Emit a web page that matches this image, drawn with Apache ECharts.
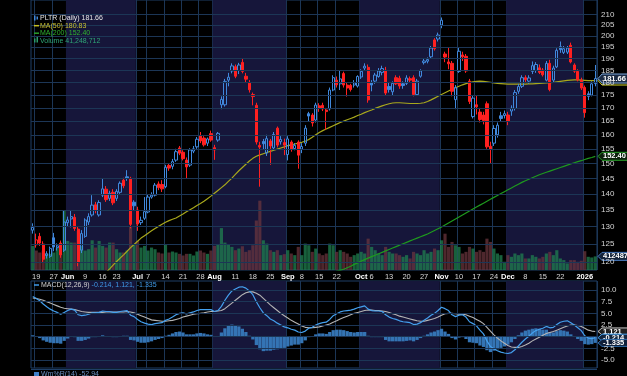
<!DOCTYPE html>
<html><head><meta charset="utf-8">
<script src="https://cdn.jsdelivr.net/npm/echarts@6/dist/echarts.min.js"></script>
<style>html,body{margin:0;padding:0;background:#000;}#c{width:627px;height:376px;}</style>
</head><body><div id="c"></div>
<script>
const dates = [
'2025-05-16','2025-05-19','2025-05-20','2025-05-21','2025-05-22','2025-05-23','2025-05-27','2025-05-28','2025-05-29','2025-05-30',
'2025-06-02','2025-06-03','2025-06-04','2025-06-05','2025-06-06','2025-06-09','2025-06-10','2025-06-11','2025-06-12','2025-06-13','2025-06-16','2025-06-17','2025-06-18','2025-06-20','2025-06-23','2025-06-24','2025-06-25','2025-06-26','2025-06-27','2025-06-30',
'2025-07-01','2025-07-02','2025-07-03','2025-07-07','2025-07-08','2025-07-09','2025-07-10','2025-07-11','2025-07-14','2025-07-15','2025-07-16','2025-07-17','2025-07-18','2025-07-21','2025-07-22','2025-07-23','2025-07-24','2025-07-25','2025-07-28','2025-07-29','2025-07-30','2025-07-31',
'2025-08-01','2025-08-04','2025-08-05','2025-08-06','2025-08-07','2025-08-08','2025-08-11','2025-08-12','2025-08-13','2025-08-14','2025-08-15','2025-08-18','2025-08-19','2025-08-20','2025-08-21','2025-08-22','2025-08-25','2025-08-26','2025-08-27','2025-08-28','2025-08-29',
'2025-09-02','2025-09-03','2025-09-04','2025-09-05','2025-09-08','2025-09-09','2025-09-10','2025-09-11','2025-09-12','2025-09-15','2025-09-16','2025-09-17','2025-09-18','2025-09-19','2025-09-22','2025-09-23','2025-09-24','2025-09-25','2025-09-26','2025-09-29','2025-09-30',
'2025-10-01','2025-10-02','2025-10-03','2025-10-06','2025-10-07','2025-10-08','2025-10-09','2025-10-10','2025-10-13','2025-10-14','2025-10-15','2025-10-16','2025-10-17','2025-10-20','2025-10-21','2025-10-22','2025-10-23','2025-10-24','2025-10-27','2025-10-28','2025-10-29','2025-10-30','2025-10-31',
'2025-11-03','2025-11-04','2025-11-05','2025-11-06','2025-11-07','2025-11-10','2025-11-11','2025-11-12','2025-11-13','2025-11-14','2025-11-17','2025-11-18','2025-11-19','2025-11-20','2025-11-21','2025-11-24','2025-11-25','2025-11-26','2025-11-28',
'2025-12-01','2025-12-02','2025-12-03','2025-12-04','2025-12-05','2025-12-08','2025-12-09','2025-12-10','2025-12-11','2025-12-12','2025-12-15','2025-12-16','2025-12-17','2025-12-18','2025-12-19','2025-12-22','2025-12-23','2025-12-24','2025-12-26','2025-12-29','2025-12-30','2025-12-31',
'2026-01-02','2026-01-05','2026-01-06','2026-01-07'];

const opens = [129.0,124.8,127.2,125.0,121.8,121.6,126.8,124.0,125.3,123.3,131.2,132.3,132.8,129.3,123.3,127.2,131.4,133.5,136.6,133.5,139.6,141.5,138.6,140.5,138.6,140.5,144.4,145.5,145.0,137.4,135.0,131.2,132.5,134.4,139.0,139.6,143.2,143.0,142.3,149.3,149.0,151.1,155.3,153.8,151.1,149.4,154.2,155.7,159.6,158.8,157.0,160.4,155.4,158.1,171.2,171.2,181.0,184.8,186.6,185.0,188.4,182.6,179.8,175.2,171.0,156.2,157.6,153.5,157.8,155.3,162.4,157.5,157.2,153.0,157.4,155.1,157.4,154.9,157.0,167.8,167.3,165.4,170.8,171.0,169.2,169.6,177.0,181.0,179.5,183.7,179.0,178.9,179.0,178.6,182.3,186.0,186.3,180.0,180.6,182.5,184.2,185.1,178.4,176.3,182.0,181.8,179.5,179.7,181.6,182.0,175.2,182.6,188.3,188.9,190.8,198.2,198.6,205.0,192.0,188.6,188.0,173.2,184.6,191.6,191.0,180.6,166.7,171.2,168.4,167.3,171.6,155.9,157.0,160.0,167.0,167.1,167.3,168.8,169.8,176.5,178.5,182.0,180.6,184.6,185.0,186.1,185.2,181.0,188.0,181.0,186.5,195.2,192.7,192.8,195.8,187.3,184.6,181.0,178.0,175.5,175.0,179.6];
const closes = [129.8,126.2,125.3,120.8,122.3,123.8,124.2,124.5,122.0,131.4,132.0,133.0,129.5,119.9,128.0,132.0,133.0,136.5,135.0,137.3,141.6,138.2,140.2,137.2,140.8,143.4,142.6,145.0,130.7,136.3,130.8,131.9,134.5,139.0,139.6,142.8,142.0,141.6,148.7,148.4,150.6,154.0,153.5,151.6,148.8,154.6,155.0,158.4,157.8,156.4,158.5,158.1,154.6,160.5,173.3,180.5,182.2,186.9,182.6,187.3,184.6,181.4,177.1,174.4,157.4,155.6,156.8,158.6,156.0,160.1,156.3,158.3,156.3,158.5,154.8,156.2,152.8,155.8,162.4,166.9,164.3,171.1,169.8,169.6,168.6,177.0,182.0,179.1,181.5,179.0,177.8,177.2,179.9,182.5,184.6,186.8,173.1,179.0,183.1,184.8,185.8,175.8,177.2,179.7,179.5,178.6,178.8,181.9,181.0,175.2,180.6,184.8,189.0,189.6,194.6,194.3,200.4,207.2,190.7,187.8,176.5,178.0,193.2,190.8,184.8,172.5,173.8,170.4,165.6,165.2,155.7,154.8,162.3,163.5,166.0,167.8,164.9,169.9,176.0,178.4,182.0,181.2,181.9,187.0,187.5,184.2,183.2,188.0,177.2,186.0,193.6,193.9,194.3,194.6,188.6,184.7,181.1,177.8,168.2,174.5,179.5,181.66];
const lows = [128.0,124.0,124.5,119.8,121.0,121.2,123.0,123.2,121.2,122.8,130.0,129.8,128.8,118.9,122.5,126.8,130.5,133.0,134.0,133.0,139.0,137.5,137.8,136.5,137.8,140.0,141.8,144.2,129.5,135.0,128.8,130.5,132.0,134.0,138.5,139.2,141.2,140.6,141.8,147.5,148.0,150.5,152.8,151.0,145.0,148.8,153.5,155.0,157.0,155.8,156.0,157.5,151.2,157.5,169.5,170.5,178.5,183.8,181.8,183.5,183.8,180.0,176.0,171.0,156.5,142.3,154.6,152.5,149.5,154.5,155.5,156.5,152.8,151.0,154.0,154.5,148.2,153.5,156.0,165.0,163.0,164.5,168.5,168.8,161.8,169.0,176.5,178.0,177.0,178.0,174.4,176.4,178.0,178.0,181.5,185.0,172.0,176.5,179.5,182.0,183.0,175.0,176.0,175.0,179.0,177.5,177.5,179.0,180.0,174.5,174.8,182.0,187.5,188.0,190.0,193.5,197.5,203.5,188.5,185.5,174.5,169.5,184.0,189.0,184.0,171.5,166.0,167.5,164.5,163.8,155.0,150.0,156.0,159.0,165.0,166.0,163.5,167.0,169.0,175.5,177.8,180.0,179.5,183.5,184.0,183.5,182.5,180.5,176.5,180.0,186.0,192.5,192.0,192.0,188.0,184.0,180.5,177.0,166.3,173.0,174.5,178.5];
const highs = [131.0,128.0,128.2,125.8,123.0,124.3,128.2,125.2,126.0,134.8,133.0,135.0,133.8,130.0,129.0,132.5,134.0,139.6,137.5,138.0,145.0,142.5,141.0,141.5,141.5,144.0,145.2,147.7,145.5,138.0,136.0,133.0,139.0,139.8,140.5,143.5,144.0,144.4,149.5,150.0,151.5,155.0,156.0,154.5,152.0,155.2,156.0,159.2,161.0,159.5,159.0,161.5,156.4,161.0,174.5,181.5,184.0,188.0,187.5,188.2,190.0,184.0,181.0,176.0,172.0,157.5,158.5,160.0,158.5,161.0,163.0,159.5,158.6,159.5,158.0,157.0,158.0,157.0,163.5,168.5,168.0,172.0,171.8,172.0,170.0,178.0,183.0,182.5,185.0,184.5,180.0,179.5,181.0,183.0,185.5,188.0,187.5,181.0,184.0,186.0,187.0,186.5,180.0,180.5,183.0,182.8,180.5,183.0,182.5,183.0,181.5,185.5,190.0,190.5,195.5,199.0,201.5,208.5,193.0,195.0,189.0,179.0,195.0,193.0,192.0,181.5,175.0,175.0,170.0,168.5,172.5,157.5,163.5,164.5,168.5,169.0,168.5,171.0,177.0,179.5,183.0,183.0,183.0,188.8,188.5,187.5,186.0,189.0,189.5,187.0,194.5,197.5,195.5,195.5,197.0,188.0,185.5,182.0,178.8,176.5,180.5,187.3];
const volumesM = [73,59,53,59,50,49,53,68,49,179,88,83,83,118,73,59,63,90,68,88,73,68,83,83,63,53,53,59,132,78,88,68,73,59,68,63,53,50,78,53,56,53,49,44,49,49,44,56,59,53,49,59,73,78,127,83,78,70,60,65,72,55,60,75,150,210,90,80,60,55,60,45,48,60,50,45,70,45,80,75,55,65,50,45,50,80,75,55,60,55,50,40,45,50,55,50,95,70,60,50,45,70,55,50,50,45,40,45,35,55,50,45,60,50,55,65,60,90,110,70,85,75,70,50,55,70,65,55,60,55,95,85,65,50,45,25,45,40,50,45,50,35,35,45,40,35,40,50,55,45,60,35,30,20,30,30,25,28,57,40,38,41.25];
const ma50 = [null,null,null,null,null,null,null,null,null,null,null,null,null,null,null,null,null,null,null,null,null,117.3,118.2,119.2,120.2,121.1,122.0,123.0,124.0,124.9,125.8,126.7,127.4,128.1,128.8,129.5,130.1,130.7,131.3,131.8,132.2,132.6,133.2,133.8,134.5,135.1,135.7,136.4,137.0,137.7,138.5,139.3,140.2,141.1,142.0,142.9,144.0,145.1,146.3,147.5,148.6,149.7,150.8,151.7,152.4,152.9,153.3,153.7,154.1,154.5,154.9,155.3,155.7,156.1,156.4,156.7,157.0,157.3,157.7,158.3,159.1,160.0,160.8,161.5,162.1,162.7,163.3,163.9,164.5,165.0,165.5,166.0,166.5,167.1,167.6,168.2,168.7,169.2,169.8,170.3,170.8,171.2,171.6,171.9,172.0,172.0,171.9,171.8,171.7,171.7,171.7,171.8,172.0,172.5,173.1,173.8,174.5,175.2,175.9,176.6,177.3,177.9,178.5,179.1,179.6,180.0,180.3,180.5,180.6,180.5,180.3,180.1,179.9,179.7,179.6,179.5,179.4,179.4,179.4,179.4,179.4,179.4,179.5,179.5,179.6,179.7,179.8,179.9,180.0,180.1,180.3,180.5,180.7,180.9,181.0,181.1,181.1,181.0,180.9,180.8,180.8,180.83];
const ma200 = [null,null,null,null,null,null,null,null,null,null,null,null,null,null,null,null,null,null,null,null,null,null,null,null,null,null,null,null,null,null,null,null,null,null,null,null,null,null,null,null,null,null,null,null,null,null,null,null,null,null,null,null,null,null,null,null,null,null,null,null,null,null,null,null,null,null,null,null,null,null,null,null,null,null,null,null,null,null,null,null,null,null,null,null,null,null,117.2,117.6,117.8,118.1,118.5,118.9,119.4,119.8,120.3,120.7,121.1,121.5,121.9,122.3,122.7,123.1,123.5,123.9,124.3,124.7,125.1,125.5,125.9,126.3,126.7,127.1,127.5,127.9,128.4,128.9,129.4,129.9,130.5,131.1,131.7,132.3,132.9,133.5,134.1,134.7,135.3,135.9,136.5,137.1,137.7,138.3,138.9,139.5,140.1,140.7,141.3,141.9,142.5,143.1,143.7,144.2,144.7,145.2,145.7,146.2,146.6,147.0,147.4,147.8,148.2,148.6,149.0,149.4,149.8,150.2,150.6,150.9,151.3,151.7,152.0,152.4];
const macd = [8.6,8.2,7.7,7.0,6.4,5.9,5.5,5.2,4.8,5.2,5.6,5.9,5.7,4.7,4.5,4.6,4.8,5.1,5.1,5.2,5.5,5.4,5.4,5.2,5.2,5.4,5.5,5.6,4.6,4.3,3.7,3.2,2.9,2.7,2.6,2.8,2.9,3.0,3.5,3.8,4.2,4.7,5.0,5.1,4.9,5.1,5.3,5.6,5.8,5.8,5.8,5.8,5.4,5.6,6.5,7.8,8.9,9.8,10.2,10.6,10.7,10.4,9.8,9.0,7.5,6.2,5.1,4.5,3.8,3.4,2.9,2.5,2.1,1.9,1.6,1.4,1.0,0.9,1.2,1.8,2.0,2.5,2.8,3.0,3.1,3.7,4.5,4.9,5.3,5.5,5.6,5.7,5.9,6.2,6.4,6.6,5.9,5.6,5.5,5.5,5.4,4.7,4.2,3.9,3.7,3.4,3.2,3.1,3.0,2.6,2.7,3.0,3.5,4.0,4.6,5.0,5.6,6.3,6.0,5.6,4.7,4.3,4.6,4.7,4.2,3.2,2.8,2.3,1.4,0.6,-0.9,-2.1,-2.6,-3.0,-3.3,-3.5,-3.6,-3.4,-2.8,-2.0,-1.2,-0.5,0.1,0.8,1.3,1.6,1.8,2.2,1.9,2.0,2.6,3.1,3.3,3.4,3.0,2.5,1.9,1.3,0.2,-0.3,-0.4,-0.214];
const signal = [8.3,8.2,8.0,7.8,7.5,7.2,6.9,6.6,6.3,6.1,6.0,5.9,5.8,5.6,5.4,5.3,5.2,5.2,5.2,5.2,5.2,5.3,5.3,5.3,5.3,5.3,5.3,5.4,5.3,5.1,4.8,4.5,4.2,3.9,3.6,3.5,3.4,3.3,3.3,3.4,3.5,3.7,3.9,4.2,4.4,4.6,4.8,4.9,5.0,5.1,5.3,5.4,5.4,5.5,5.6,6.0,6.6,7.2,7.8,8.4,9.0,9.4,9.6,9.6,9.3,8.9,8.2,7.5,6.8,6.2,5.6,5.0,4.5,4.0,3.5,3.1,2.7,2.3,2.0,1.9,1.9,2.0,2.1,2.3,2.5,2.7,3.1,3.4,3.8,4.1,4.4,4.7,5.0,5.2,5.4,5.6,5.7,5.7,5.6,5.6,5.5,5.4,5.2,4.9,4.7,4.4,4.2,4.0,3.8,3.6,3.4,3.3,3.3,3.5,3.7,3.9,4.2,4.6,4.9,5.0,5.0,4.9,4.8,4.8,4.7,4.4,4.1,3.7,3.3,2.8,2.0,1.2,0.4,-0.3,-0.9,-1.4,-1.9,-2.2,-2.3,-2.3,-2.1,-1.8,-1.4,-0.9,-0.5,-0.1,0.3,0.7,0.9,1.1,1.4,1.7,2.0,2.3,2.5,2.5,2.4,2.2,1.8,1.4,1.2,1.121];
const hist = [0.3,0.0,-0.3,-0.8,-1.1,-1.3,-1.4,-1.4,-1.5,-0.9,-0.4,0.0,-0.1,-0.9,-0.9,-0.7,-0.4,-0.1,-0.1,0.0,0.3,0.1,0.1,-0.1,-0.1,0.1,0.2,0.2,-0.7,-0.8,-1.1,-1.3,-1.3,-1.2,-1.0,-0.7,-0.5,-0.3,0.2,0.4,0.7,1.0,1.1,0.9,0.5,0.5,0.5,0.7,0.8,0.7,0.5,0.4,0.0,0.1,0.9,1.8,2.3,2.6,2.4,2.2,1.7,1.0,0.2,-0.6,-1.8,-2.7,-3.1,-3.0,-3.0,-2.8,-2.7,-2.5,-2.4,-2.1,-1.9,-1.7,-1.7,-1.4,-0.8,-0.1,0.1,0.5,0.7,0.7,0.6,1.0,1.4,1.5,1.5,1.4,1.2,1.0,0.9,1.0,1.0,1.0,0.2,-0.1,-0.1,-0.1,-0.1,-0.7,-1.0,-1.0,-1.0,-1.0,-1.0,-0.9,-0.8,-1.0,-0.7,-0.3,0.2,0.5,0.9,1.1,1.4,1.7,1.1,0.6,-0.3,-0.6,-0.2,-0.1,-0.5,-1.2,-1.3,-1.4,-1.9,-2.2,-2.9,-3.3,-3.0,-2.7,-2.4,-2.1,-1.7,-1.2,-0.5,0.3,0.9,1.3,1.5,1.7,1.8,1.7,1.5,1.5,1.0,0.9,1.2,1.4,1.3,1.1,0.5,0.0,-0.5,-0.9,-1.6,-1.7,-1.6,-1.335];

const tickDates = ['2025-05-19','2025-05-27','2025-06-02','2025-06-09','2025-06-16','2025-06-23','2025-07-01','2025-07-07','2025-07-14','2025-07-21','2025-07-28','2025-08-01','2025-08-11','2025-08-18','2025-08-25','2025-09-02','2025-09-08','2025-09-15','2025-09-22','2025-10-01','2025-10-06','2025-10-13','2025-10-20','2025-10-27','2025-11-03','2025-11-10','2025-11-17','2025-11-24','2025-12-01','2025-12-08','2025-12-15','2025-12-22','2026-01-02'];
const tickTexts = ['19','27','Jun','9','16','23','Jul','7','14','21','28','Aug','11','18','25','Sep','8','15','22','Oct','6','13','20','27','Nov','10','17','24','Dec','8','15','22','2026'];
const shadedMonths = [['2025-06-02','2025-07-01'],['2025-08-01','2025-09-02'],['2025-10-01','2025-11-03'],['2025-12-01','2026-01-02']];
const priceTicks = [120,125,130,135,140,145,150,155,160,165,170,175,180,185,190,195,200,205,210];
const volTicks = [50e6,100e6,150e6,200e6,250e6];
const macdTicks = [-5,-2.5,0,2.5,5,7.5,10];

const BLUE='#4088dc', RED='#ff2020', GRIDC='#1c3656', FONT='"Liberation Sans", Arial, sans-serif';
const N = dates.length;
const tickMap = {}; tickDates.forEach((d,i)=>tickMap[d]=tickTexts[i]);
const isMonth = t => isNaN(+t) || t.length===4;

const candleData = opens.map((o,i)=>{
  const c = closes[i], prev = i>0 ? closes[i-1] : o;
  const col = c >= prev ? BLUE : RED;
  const fill = c > o ? 'rgba(0,0,0,0)' : col;
  return {value:[o,c,lows[i],highs[i]], itemStyle:{color:fill,color0:fill,borderColor:col,borderColor0:col}};
});
const volData = volumesM.map((v,i)=>{
  const up = i===0 || closes[i] >= closes[i-1];
  return {value:v*1e6, itemStyle:{color: up ? 'rgba(32,128,80,0.75)' : 'rgba(108,54,62,0.72)'}};
});
const shadeAreas = shadedMonths.map(m=>[{xAxis:dates.indexOf(m[0])},{xAxis:dates.indexOf(m[1])}]);

const chart = echarts.init(document.getElementById('c'), null, {renderer:'canvas'});
const showTick = (idx, val) => tickMap[val] !== undefined;
const catAxis = (grid, labels) => ({
  type:'category', gridIndex:grid, data:dates, boundaryGap:true,
  axisLine:{show:false}, axisTick:{show:false},
  axisLabel: labels ? {show:true, interval:showTick, margin:3,
    formatter: v => isMonth(tickMap[v]) ? '{b|'+tickMap[v]+'}' : '{n|'+tickMap[v]+'}',
    rich:{b:{color:'#ffffff',fontWeight:'bold',fontSize:7.5,fontFamily:FONT},n:{color:'#d8d8d8',fontSize:7.5,fontFamily:FONT}}} : {show:false},
  splitLine:{show:true, interval:showTick, lineStyle:{color:GRIDC,width:1}}
});
const hLines = (vals, fmt, pos, col) => ({
  silent:true, symbol:['none','none'], animation:false,
  lineStyle:{color:GRIDC, width:1, type:'solid'},
  label:{show:true, position:pos, distance:pos==='end'?4:3, color:col||'#d4d4d4', fontSize:8, fontFamily:FONT, formatter:p=>fmt(p.value)},
  emphasis:{disabled:true},
  data: vals.map(v=>({yAxis:v}))
});

chart.setOption({
  animation:false,
  backgroundColor:'#000',
  grid:[
    {left:31, right:30, top:0, height:270, show:true, borderColor:'#1f3f66', borderWidth:1},
    {left:31, right:30, top:281, height:87, show:true, borderColor:'#1f3f66', borderWidth:1}
  ],
  xAxis:[
    catAxis(0,true),
    {type:'value', gridIndex:0, min:0, max:N, show:false},
    catAxis(1,false),
    {type:'value', gridIndex:1, min:0, max:N, show:false}
  ],
  yAxis:[
    {type:'log', gridIndex:0, min:117.9, max:216.9, position:'right', axisLabel:{show:false}, axisLine:{show:false}, axisTick:{show:false}, splitLine:{show:false}},
    {type:'value', gridIndex:0, min:0, max:818e6, position:'left', axisLabel:{show:false}, axisLine:{show:false}, axisTick:{show:false}, splitLine:{show:false}},
    {type:'value', gridIndex:1, min:-6.71, max:11.93, position:'right', axisLabel:{show:false}, axisLine:{show:false}, axisTick:{show:false}, splitLine:{show:false}}
  ],
  series:[
    {type:'line', xAxisIndex:1, yAxisIndex:0, data:[], z:0, markArea:{silent:true, itemStyle:{color:'#16163a'}, data:shadeAreas}},
    {type:'line', xAxisIndex:3, yAxisIndex:2, data:[], z:0, markArea:{silent:true, itemStyle:{color:'#16163a'}, data:shadeAreas}},
    {type:'line', xAxisIndex:0, yAxisIndex:0, data:[], z:1, markLine:hLines(priceTicks, v=>String(v), 'end')},
    {type:'line', xAxisIndex:0, yAxisIndex:1, data:[], z:1, markLine:Object.assign(hLines(volTicks, v=>(v/1e6)+'M', 'start'), {lineStyle:{opacity:0}})},
    {type:'line', xAxisIndex:2, yAxisIndex:2, data:[], z:1, markLine:hLines(macdTicks, v=>v===0?'':v.toFixed(1), 'end')},
    {name:'Volume', type:'bar', xAxisIndex:0, yAxisIndex:1, data:volData, barCategoryGap:'10%', z:2},
    {name:'MA50', type:'line', xAxisIndex:0, yAxisIndex:0, data:ma50, showSymbol:false, symbol:'none', lineStyle:{color:'#a8a81c', width:1.2}, z:3},
    {name:'MA200', type:'line', xAxisIndex:0, yAxisIndex:0, data:ma200, showSymbol:false, symbol:'none', lineStyle:{color:'#1e9a1e', width:1.2}, z:3},
    {name:'PLTR', type:'candlestick', xAxisIndex:0, yAxisIndex:0, data:candleData, barWidth:2.8, z:4},
    {name:'Hist', type:'bar', xAxisIndex:2, yAxisIndex:2, data:hist, barCategoryGap:'6%', itemStyle:{color:'#3474b4'}, z:2},
    {name:'Signal', type:'line', xAxisIndex:2, yAxisIndex:2, data:signal, showSymbol:false, symbol:'none', lineStyle:{color:'#b4b4b4', width:1.1}, z:3},
    {name:'MACD', type:'line', xAxisIndex:2, yAxisIndex:2, data:macd, showSymbol:false, symbol:'none', lineStyle:{color:'#44a0ee', width:1.2}, z:4}
  ]
});

function tag(y, text, stroke, fill, txtCol, h) {
  const x = 598;
  return {type:'group', z:100, children:[
    {type:'polygon', shape:{points:[[x,y],[x+4,y-h/2],[632,y-h/2],[632,y+h/2],[x+4,y+h/2]]}, style:{fill:fill, stroke:stroke, lineWidth:1}},
    {type:'text', x:x+5, y:y, style:{text:text, fill:txtCol, font:'bold 7.5px '+FONT, verticalAlign:'middle'}}
  ]};
}
const last = N-1;
const yPrice = chart.convertToPixel({yAxisIndex:0}, closes[last]);
const yMa50 = chart.convertToPixel({yAxisIndex:0}, ma50[last]);
const yMa200 = chart.convertToPixel({yAxisIndex:0}, ma200[last]);
const yVol = chart.convertToPixel({yAxisIndex:1}, volumesM[last]*1e6);
const yM = chart.convertToPixel({yAxisIndex:2}, macd[last]);
const yS = chart.convertToPixel({yAxisIndex:2}, signal[last]);
const yH = chart.convertToPixel({yAxisIndex:2}, hist[last]);

function legendText(x, y, text, color) {
  return {type:'text', x:x, y:y, z:100, style:{text:text, fill:color, font:'7px '+FONT, verticalAlign:'middle'}};
}
const g = [
  tag(yMa50, '180.83', '#c8c820', '#1a1a08', '#ffffff', 9),
  tag(yPrice, closes[last].toFixed(2), '#7aa6dc', '#1c2b44', '#ffffff', 9),
  tag(yMa200, ma200[last].toFixed(2), '#2aa02a', '#0c200c', '#ffffff', 8),
  tag(yVol, '41248712', '#4a7cc0', '#15243a', '#ffffff', 8),
  tag(yS, signal[last].toFixed(3), '#c8c8c8', '#202020', '#ffffff', 7),
  tag(yM, macd[last].toFixed(3), '#3f9ae8', '#14263e', '#ffffff', 7),
  tag(yH, hist[last].toFixed(3), '#2e6aa8', '#10203a', '#ffffff', 7),
  {type:'rect', z:100, shape:{x:34, y:15.5, width:1.5, height:5}, style:{fill:BLUE}},
  {type:'rect', z:100, shape:{x:36.5, y:16.5, width:1.5, height:3}, style:{fill:BLUE}},
  {type:'line', z:100, shape:{x1:34, y1:25.7, x2:39, y2:25.7}, style:{stroke:'#c8c020', lineWidth:1.5}},
  {type:'line', z:100, shape:{x1:34, y1:33.2, x2:39, y2:33.2}, style:{stroke:'#2aa02a', lineWidth:1.5}},
  {type:'rect', z:100, shape:{x:34, y:38.5, width:1.5, height:4}, style:{fill:'#2a9a6a'}},
  {type:'rect', z:100, shape:{x:36.5, y:37, width:1.5, height:5.5}, style:{fill:'#2a9a6a'}},
  legendText(40, 18.3, 'PLTR (Daily) 181.66', '#e6e6e6'),
  legendText(40, 25.8, 'MA(50) 180.83', '#c8c030'),
  legendText(40, 33.3, 'MA(200) 152.40', '#30b030'),
  legendText(40, 40.6, 'Volume 41,248,712', '#2fa676'),
  {type:'line', z:100, shape:{x1:34, y1:285, x2:39, y2:285}, style:{stroke:'#3f9ae8', lineWidth:1.5}},
  {type:'text', x:41, y:285, z:100, style:{text:'{a|MACD(12,26,9)} {b|-0.214, 1.121, -1.335}', font:'7px '+FONT, verticalAlign:'middle', rich:{a:{fill:'#d0d0d0', font:'7px '+FONT}, b:{fill:'#3f9ae8', font:'7px '+FONT}}}},
  {type:'line', z:100, shape:{x1:31, y1:369.5, x2:597, y2:369.5}, style:{stroke:'#1f3f66', lineWidth:1}},
  {type:'rect', z:100, shape:{x:34, y:372, width:5, height:4}, style:{fill:'#3f7fc8'}},
  legendText(41, 374.5, 'Wm%R(14) -52.94', '#6a8fc0')
];
chart.setOption({graphic:g});
</script></body></html>
